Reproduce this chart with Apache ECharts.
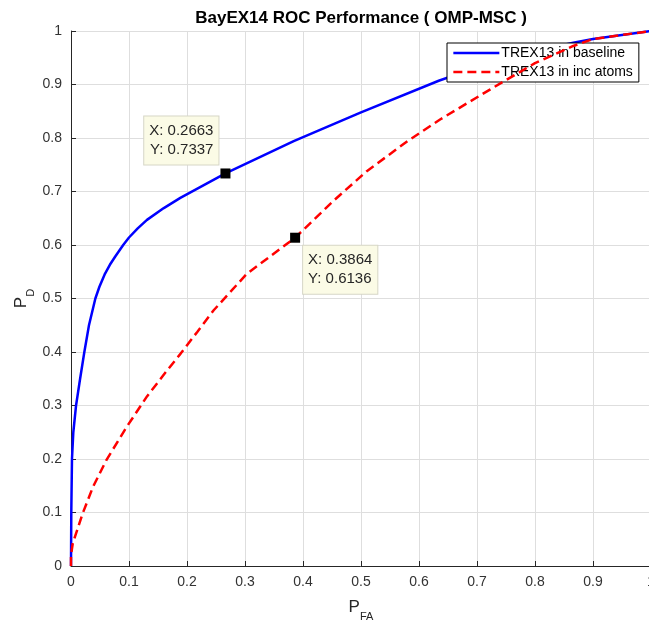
<!DOCTYPE html>
<html>
<head>
<meta charset="utf-8">
<script src="https://cdn.jsdelivr.net/npm/echarts@6/dist/echarts.min.js"></script>
<style>html,body{margin:0;padding:0;background:#fff;}#c{width:649px;height:624px;}</style>
</head>
<body>
<div id="c"></div>
<script>
const titleText = 'BayEX14 ROC Performance ( OMP-MSC )';
const seriesNames = ['TREX13 in baseline', 'TREX13 in inc atoms'];
const xTicks = [0, 0.1, 0.2, 0.3, 0.4, 0.5, 0.6, 0.7, 0.8, 0.9, 1];
const yTicks = [0, 0.1, 0.2, 0.3, 0.4, 0.5, 0.6, 0.7, 0.8, 0.9, 1];

const baseX = [0, 0.0005, 0.0017, 0.004, 0.0087, 0.0157, 0.023, 0.031, 0.042, 0.049, 0.058, 0.067, 0.076, 0.09, 0.1, 0.115, 0.131, 0.16, 0.1885, 0.2663, 0.384, 0.5, 0.634, 0.7, 0.8, 0.866, 0.9, 1];
const baseY = [0, 0.1, 0.2, 0.25, 0.3, 0.35, 0.4, 0.45, 0.5, 0.522, 0.545, 0.563, 0.578, 0.6, 0.614, 0.631, 0.647, 0.669, 0.688, 0.7337, 0.794, 0.848, 0.907, 0.932, 0.962, 0.978, 0.985, 1];

const incX = [0, 0, 0.003, 0.02, 0.038, 0.061, 0.096, 0.131, 0.166, 0.189, 0.218, 0.246, 0.303, 0.3864, 0.453, 0.51, 0.58, 0.637, 0.723, 0.8, 0.866, 0.9, 1];
const incY = [0, 0.02, 0.042, 0.098, 0.148, 0.198, 0.26, 0.317, 0.366, 0.397, 0.438, 0.478, 0.546, 0.6136, 0.683, 0.738, 0.794, 0.835, 0.891, 0.94, 0.972, 0.985, 1];

const tipX = [0.2663, 0.3864];
const tipY = [0.7337, 0.6136];

const FONT = "'Liberation Sans', Arial, Helvetica, sans-serif";
const axisCol = '#262626';

const zip = (xs, ys) => xs.map((x, i) => [x, ys[i]]);

const tipLabels = [
  { position: [-2, -4], align: 'right', verticalAlign: 'bottom' },
  { position: [13, 13], align: 'left', verticalAlign: 'top' }
];

const nameRich = {
  p: { fontFamily: FONT, fontSize: 17, color: axisCol, verticalAlign: 'top', lineHeight: 17 },
  s: { fontFamily: FONT, fontSize: 11, color: axisCol, verticalAlign: 'bottom', lineHeight: 23 }
};

const chart = echarts.init(document.getElementById('c'), null, { renderer: 'canvas' });
chart.setOption({
  animation: false,
  backgroundColor: '#fff',
  title: {
    text: titleText,
    left: 356,
    top: 5,
    textAlign: 'center',
    textStyle: { fontFamily: FONT, fontSize: 17, fontWeight: 'bold', color: '#000' }
  },
  legend: {
    orient: 'vertical',
    left: 447,
    top: 43,
    padding: [3, 6, 3, 5],
    itemGap: 5,
    itemWidth: 46,
    itemHeight: 14,
    borderColor: '#000',
    borderWidth: 1,
    backgroundColor: '#fff',
    borderRadius: 0,
    itemStyle: { opacity: 0 },
    lineStyle: { width: 2.7 },
    textStyle: { fontFamily: FONT, fontSize: 14, color: '#000', padding: [0, 0, 0, -3] },
    data: seriesNames
  },
  grid: { left: 71, top: 31, width: 580, height: 535, containLabel: false, outerBoundsMode: 'none' },
  xAxis: {
    type: 'value', min: xTicks[0], max: xTicks[xTicks.length - 1], interval: 0.1,
    name: '{p|P}{s|FA}',
    nameLocation: 'middle',
    nameGap: 33,
    nameMoveOverlap: false,
    nameTextStyle: { rich: nameRich },
    axisLine: { show: true, onZero: false, lineStyle: { color: axisCol, width: 1 } },
    axisTick: { show: true, inside: true, length: 5, lineStyle: { color: axisCol } },
    axisLabel: { fontFamily: FONT, fontSize: 14, color: '#333', margin: 9, showMaxLabel: true,
      formatter: v => String(xTicks.find(t => Math.abs(t - v) < 1e-9) ?? v) },
    splitLine: { show: true, lineStyle: { color: '#dedede', width: 1 } }
  },
  yAxis: {
    type: 'value', min: yTicks[0], max: yTicks[yTicks.length - 1], interval: 0.1,
    name: '{p|P}{s|D}',
    nameLocation: 'middle',
    nameGap: 35,
    nameMoveOverlap: false,
    nameRotate: 90,
    nameTextStyle: { rich: nameRich },
    axisLine: { show: true, onZero: false, lineStyle: { color: axisCol, width: 1 } },
    axisTick: { show: true, inside: true, length: 5, lineStyle: { color: axisCol } },
    axisLabel: { fontFamily: FONT, fontSize: 14, color: '#333', margin: 9,
      formatter: v => String(yTicks.find(t => Math.abs(t - v) < 1e-9) ?? v) },
    splitLine: { show: true, lineStyle: { color: '#dedede', width: 1 } }
  },
  series: [
    {
      name: seriesNames[0], type: 'line', symbol: 'none', smooth: false,
      data: zip(baseX, baseY),
      lineStyle: { color: '#0000ff', width: 2.5 },
      itemStyle: { color: '#0000ff' },
      z: 3
    },
    {
      name: seriesNames[1], type: 'line', symbol: 'none', smooth: false,
      data: zip(incX, incY),
      lineStyle: { color: '#ff0000', width: 2.5, type: [9, 5] },
      itemStyle: { color: '#ff0000' },
      z: 4
    },
    {
      name: 'datatips', type: 'scatter', symbol: 'rect', symbolSize: 10,
      itemStyle: { color: '#000', borderWidth: 0, opacity: 1 },
      z: 10,
      data: tipX.map((x, i) => ({
        value: [x, tipY[i]],
        label: Object.assign({
          show: true,
          formatter: p => 'X: ' + p.value[0].toFixed(4) + '\nY: ' + p.value[1].toFixed(4),
          fontFamily: FONT, fontSize: 15, lineHeight: 19, color: '#262626',
          backgroundColor: '#fbfbe6', borderColor: '#d6d6c6', borderWidth: 1,
          padding: [5, 5, 5, 5]
        }, tipLabels[i])
      }))
    }
  ]
});
</script>
</body>
</html>
